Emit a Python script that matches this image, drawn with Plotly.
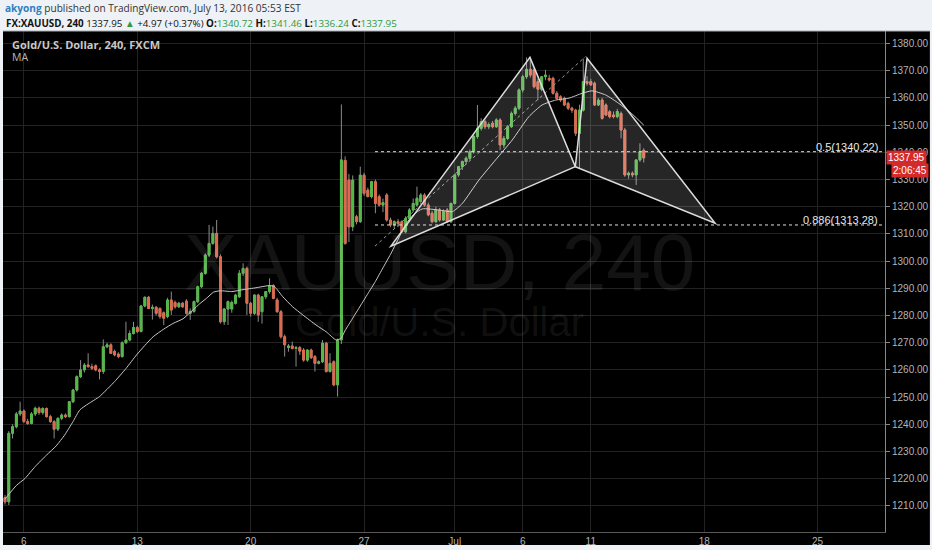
import plotly.graph_objects as go

# ---------------- data ----------------
opens = [1213.0, 1211.5, 1236.7, 1239.1, 1243.8, 1244.9, 1241.0, 1240.3, 1243.8, 1245.9,
         1244.3, 1245.8, 1242.8, 1241.0, 1238.2, 1242.2, 1243.4, 1242.8, 1248.3, 1252.6,
         1257.5, 1260.0, 1261.8, 1261.2, 1261.5, 1260.0, 1259.4, 1268.5, 1269.2, 1266.8,
         1265.8, 1264.9, 1270.0, 1271.0, 1273.4, 1275.6, 1274.1, 1283.5, 1286.7, 1282.6,
         1283.0, 1282.6, 1281.0, 1279.6, 1285.7, 1284.8, 1283.2, 1284.5, 1285.3, 1280.8,
         1281.5, 1285.1, 1290.6, 1295.5, 1302.2, 1306.5, 1310.2, 1301.6, 1277.7, 1282.4,
         1282.4, 1284.5, 1286.9, 1295.5, 1297.3, 1284.5, 1280.8, 1287.5, 1281.4, 1286.9,
         1288.8, 1291.0, 1285.7, 1281.4, 1272.2, 1268.2, 1268.8, 1267.9, 1268.2, 1267.3,
         1263.6, 1267.3, 1264.9, 1262.4, 1263.0, 1269.8, 1259.4, 1263.0, 1254.5, 1271.0,
         1337.0, 1329.8, 1312.6, 1316.3, 1314.5, 1331.6, 1326.1, 1323.7, 1329.2, 1323.7,
         1320.6, 1324.3, 1315.1, 1313.3, 1314.5, 1314.5, 1310.8, 1315.7, 1318.8, 1320.6,
         1321.9, 1324.3, 1320.6, 1317.6, 1314.5, 1318.8, 1315.1, 1318.8, 1314.5, 1321.2,
         1331.7, 1334.7, 1336.6, 1337.8, 1340.2, 1345.8, 1348.8, 1351.3, 1349.4, 1350.7,
         1349.4, 1351.9, 1342.7, 1345.1, 1349.4, 1354.3, 1356.2, 1362.9, 1367.8, 1370.5,
         1370.3, 1366.0, 1363.2, 1367.8, 1367.2, 1367.2, 1361.7, 1360.4, 1359.8, 1358.0,
         1356.2, 1355.5, 1347.0, 1355.5, 1366.0, 1366.0, 1365.4, 1357.4, 1359.2, 1357.4,
         1354.9, 1353.7, 1353.1, 1354.3, 1348.2, 1331.7, 1332.3, 1331.7, 1337.2, 1340.72]
highs = [1214.0, 1237.5, 1240.0, 1244.5, 1248.3, 1245.5, 1242.0, 1244.5, 1246.5, 1246.5,
         1246.3, 1246.2, 1243.5, 1241.5, 1242.5, 1244.0, 1244.0, 1248.5, 1253.0, 1258.0,
         1263.6, 1262.5, 1266.1, 1262.3, 1262.0, 1260.6, 1271.2, 1270.0, 1269.8, 1267.5,
         1266.5, 1270.5, 1277.7, 1274.5, 1277.7, 1276.2, 1283.8, 1287.0, 1287.2, 1284.0,
         1283.5, 1283.0, 1281.5, 1286.5, 1288.8, 1285.5, 1285.0, 1285.0, 1286.0, 1282.6,
         1285.5, 1291.0, 1296.0, 1302.9, 1313.3, 1312.7, 1315.1, 1302.5, 1282.8, 1285.5,
         1285.5, 1288.0, 1296.7, 1299.2, 1298.0, 1285.0, 1287.8, 1288.0, 1287.0, 1289.0,
         1293.7, 1291.5, 1286.5, 1282.0, 1273.0, 1269.5, 1270.4, 1268.8, 1268.8, 1268.0,
         1267.5, 1267.8, 1265.5, 1263.5, 1271.0, 1270.3, 1266.1, 1263.5, 1271.5, 1357.6,
         1338.5, 1332.0, 1331.5, 1317.0, 1334.7, 1332.5, 1327.0, 1329.5, 1330.0, 1324.5,
         1323.0, 1325.0, 1316.0, 1315.0, 1315.5, 1315.0, 1316.5, 1319.5, 1323.0, 1327.4,
         1325.0, 1325.0, 1321.5, 1318.5, 1320.0, 1319.5, 1319.0, 1319.5, 1321.5, 1332.0,
         1335.0, 1337.0, 1338.5, 1341.0, 1346.5, 1357.4, 1352.5, 1352.0, 1351.0, 1351.5,
         1352.5, 1352.5, 1346.0, 1350.0, 1355.0, 1357.0, 1363.5, 1368.5, 1374.9, 1374.9,
         1371.0, 1367.0, 1368.0, 1370.3, 1368.5, 1367.8, 1362.5, 1361.0, 1360.5, 1358.6,
         1356.8, 1356.0, 1357.5, 1374.5, 1368.0, 1367.0, 1366.0, 1360.0, 1360.0, 1358.0,
         1355.5, 1355.0, 1356.0, 1355.0, 1349.0, 1333.0, 1333.0, 1337.0, 1343.3, 1341.46]
lows = [1210.5, 1210.3, 1234.8, 1238.5, 1243.0, 1240.5, 1239.8, 1240.0, 1243.0, 1243.5,
        1243.5, 1242.5, 1240.5, 1234.8, 1237.5, 1241.5, 1242.3, 1242.5, 1247.8, 1252.0,
        1257.0, 1259.0, 1260.8, 1260.0, 1259.5, 1256.5, 1258.5, 1268.0, 1266.0, 1265.0,
        1264.3, 1264.5, 1269.5, 1270.5, 1273.0, 1273.5, 1273.8, 1283.0, 1282.5, 1278.5,
        1280.0, 1278.8, 1276.5, 1279.0, 1280.2, 1282.5, 1282.8, 1282.8, 1280.3, 1278.4,
        1281.0, 1284.5, 1290.0, 1295.0, 1301.5, 1306.0, 1301.0, 1277.0, 1276.5, 1276.5,
        1281.0, 1284.0, 1286.5, 1294.5, 1280.2, 1279.6, 1280.2, 1277.7, 1277.0, 1286.0,
        1288.0, 1286.0, 1281.0, 1271.5, 1264.9, 1266.7, 1267.5, 1261.2, 1265.5, 1263.0,
        1263.0, 1264.0, 1259.4, 1262.0, 1262.5, 1259.0, 1259.0, 1254.0, 1250.2, 1269.5,
        1306.0, 1307.0, 1311.0, 1313.5, 1314.0, 1324.0, 1323.5, 1323.0, 1317.6, 1320.0,
        1318.0, 1314.5, 1312.5, 1312.0, 1312.5, 1310.3, 1310.2, 1315.0, 1318.0, 1320.0,
        1321.0, 1320.0, 1316.5, 1313.9, 1314.0, 1314.5, 1314.8, 1314.0, 1314.0, 1320.8,
        1331.0, 1333.5, 1335.5, 1337.0, 1339.5, 1345.0, 1348.0, 1348.5, 1348.5, 1348.8,
        1349.0, 1340.8, 1341.5, 1344.5, 1349.0, 1353.5, 1355.5, 1362.0, 1367.0, 1367.5,
        1363.5, 1359.2, 1362.5, 1366.5, 1366.0, 1361.2, 1359.4, 1358.5, 1357.0, 1355.5,
        1354.5, 1346.0, 1334.2, 1355.0, 1364.5, 1364.5, 1357.0, 1357.0, 1352.0, 1353.5,
        1352.5, 1352.5, 1352.5, 1345.1, 1331.0, 1330.3, 1330.8, 1328.0, 1336.5, 1336.24]
closes = [1211.5, 1236.7, 1239.1, 1243.8, 1244.9, 1241.0, 1240.3, 1243.8, 1245.9, 1244.3,
          1245.8, 1242.8, 1241.0, 1238.2, 1242.2, 1243.4, 1242.8, 1248.3, 1252.6, 1257.5,
          1260.0, 1261.8, 1261.2, 1260.6, 1260.0, 1259.4, 1268.5, 1269.2, 1266.1, 1265.5,
          1264.9, 1270.0, 1271.0, 1273.4, 1275.6, 1274.1, 1283.5, 1286.7, 1282.6, 1283.0,
          1280.8, 1279.6, 1279.0, 1285.7, 1282.0, 1283.2, 1284.5, 1283.2, 1280.8, 1281.5,
          1285.1, 1290.6, 1295.5, 1302.2, 1306.5, 1310.2, 1301.6, 1277.7, 1282.4, 1285.1,
          1284.8, 1287.5, 1295.5, 1297.3, 1284.5, 1280.8, 1287.5, 1280.2, 1286.9, 1288.8,
          1291.0, 1286.3, 1281.4, 1272.2, 1269.2, 1268.8, 1267.9, 1268.2, 1266.9, 1263.6,
          1267.3, 1264.5, 1262.4, 1263.0, 1269.8, 1259.4, 1262.4, 1254.5, 1271.0, 1337.2,
          1306.5, 1312.6, 1329.8, 1314.5, 1331.6, 1324.9, 1323.7, 1329.2, 1321.2, 1320.6,
          1321.5, 1315.1, 1313.3, 1314.5, 1313.8, 1310.8, 1315.7, 1318.8, 1321.2, 1323.1,
          1324.3, 1320.6, 1317.0, 1314.5, 1318.8, 1315.1, 1318.2, 1314.5, 1321.2, 1331.7,
          1334.7, 1336.6, 1337.8, 1340.2, 1345.8, 1348.8, 1351.3, 1349.4, 1350.2, 1349.4,
          1351.9, 1342.7, 1345.1, 1349.4, 1354.3, 1356.2, 1362.9, 1367.8, 1370.5, 1368.4,
          1364.1, 1363.2, 1367.8, 1368.4, 1366.6, 1361.7, 1359.8, 1359.2, 1357.4, 1356.2,
          1355.5, 1347.0, 1355.5, 1366.0, 1365.4, 1364.8, 1357.4, 1359.2, 1352.5, 1353.7,
          1353.1, 1353.1, 1355.0, 1348.2, 1331.7, 1332.3, 1331.7, 1337.2, 1340.2, 1337.95]
bar_index = list(range(len(closes)))

# moving average line (bar position, price)
ma_bars = [0, 3, 5.3, 8, 11, 13.5, 15.8, 18, 19.8, 22, 25, 29, 32, 34.8, 37, 39.2, 42, 44.5,
           47.1, 49.7, 51.5, 53.3, 55.2, 57, 60, 63, 66.4, 70, 71.3, 73.5, 76.1, 78.8, 82.3,
           85, 87.6, 88.9, 90, 92, 94, 96, 98, 100, 102, 104, 106, 108, 110.4, 114.8, 118.4,
           121, 125.4, 129.8, 134.2, 138.6, 142.1, 145.7, 149.2, 152.7, 155.3, 158.9, 162.4,
           166, 169]
ma_values = [1212.5, 1217.5, 1220.1, 1224.5, 1228.7, 1232.0, 1236.1, 1241.0, 1245.3, 1247.5,
             1250.2, 1255.7, 1260.5, 1265.5, 1269.0, 1272.2, 1275.0, 1277.1, 1278.8, 1282.0,
             1284.3, 1286.3, 1288.6, 1289.1, 1288.8, 1289.5, 1290.2, 1291.0, 1290.6, 1286.9,
             1283.2, 1280.2, 1276.5, 1274.0, 1271.0, 1271.6, 1274.5, 1279.0, 1283.5, 1288.0,
             1292.5, 1297.5, 1302.5, 1308.0, 1313.5, 1317.0, 1319.2, 1318.8, 1318.2, 1321.2,
             1329.8, 1337.2, 1344.5, 1353.1, 1357.4, 1359.2, 1359.9, 1361.7, 1362.6, 1361.1,
             1358.0, 1354.0, 1350.0]

x_tick_bars = [5, 35, 65, 95, 119, 137, 155, 185, 215]
x_tick_labels = ["6", "13", "20", "27", "Jul", "6", "11", "18", "25"]
y_tick_values = list(range(1210, 1381, 10))

# harmonic pattern points X, A, B, C, D (bar position, price)
pattern_bars = [102.1, 138.9, 150.9, 154.0, 187.9]
pattern_prices = [1305.5, 1374.9, 1334.7, 1374.6, 1313.9]
trend_bars = [97.9, 153.6]
trend_prices = [1305.5, 1375.2]
fib_levels = [1340.22, 1313.28]
fib_labels = ["0.5(1340.22)", "0.886(1313.28)"]
fib_start_bar = 97.9

last_price = 1337.95
countdown_text = "2:06:45"

# ---------------- figure ----------------
X_MIN, X_MAX = -0.53, 232.84
Y_MIN, Y_MAX = 1200.4, 1384.6
W, H = 932, 550
ML, MR, MT, MB = 3, 45, 31, 18
PW, PH = W - ML - MR, H - MT - MB


def px_x(px):
    return (px - ML) / PW


def px_y(py):
    return (H - MB - py) / PH


GREEN = "#55b948"
RED = "#e0694c"
WICK = "#8c8c8c"

fig = go.Figure()

# wicks
fig.add_trace(go.Candlestick(
    x=bar_index, open=opens, high=highs, low=lows, close=closes,
    increasing=dict(line=dict(color=WICK, width=1), fillcolor=WICK),
    decreasing=dict(line=dict(color=WICK, width=1), fillcolor=WICK),
    whiskerwidth=0, hoverinfo="skip", showlegend=False))
# bodies
body_hi = [max(o, c) for o, c in zip(opens, closes)]
body_lo = [min(o, c) for o, c in zip(opens, closes)]
fig.add_trace(go.Candlestick(
    x=bar_index, open=opens, high=body_hi, low=body_lo, close=closes,
    increasing=dict(line=dict(color=GREEN, width=1), fillcolor=GREEN),
    decreasing=dict(line=dict(color=RED, width=1), fillcolor=RED),
    whiskerwidth=0, hoverinfo="skip", showlegend=False))

fig.add_trace(go.Scatter(x=ma_bars, y=ma_values, mode="lines",
                         line=dict(color="#c8c8c8", width=1, shape="spline", smoothing=0.5),
                         hoverinfo="skip", showlegend=False))

# dotted trend line
fig.add_trace(go.Scatter(x=trend_bars, y=trend_prices, mode="lines",
                         line=dict(color="#9a9a9a", width=1, dash="dot"),
                         hoverinfo="skip", showlegend=False))

shapes = []
# black chart area incl. axis strips
shapes.append(dict(type="rect", xref="paper", yref="paper", x0=0, x1=px_x(W), y0=px_y(545), y1=1,
                   fillcolor="#000000", line=dict(width=0), layer="below"))
shapes.append(dict(type="line", xref="paper", yref="paper", x0=0, x1=px_x(W), y0=1, y1=1,
                   line=dict(color="#a8adb3", width=1)))

Xb, Ab, Bb, Cb, Db = pattern_bars
Xp, Ap, Bp, Cp, Dp = pattern_prices
tri1 = f"M {Xb},{Xp} L {Ab},{Ap} L {Bb},{Bp} Z"
tri2 = f"M {Bb},{Bp} L {Cb},{Cp} L {Db},{Dp} Z"
for p in (tri1, tri2):
    shapes.append(dict(type="path", xref="x", yref="y", path=p,
                       fillcolor="rgba(255,255,255,0.15)",
                       line=dict(color="#dcdcdc", width=1.5), layer="above"))

for lvl in fib_levels:
    shapes.append(dict(type="line", xref="x", yref="y", x0=fib_start_bar, x1=X_MAX, y0=lvl, y1=lvl,
                       line=dict(color="#e0e0e0", width=1, dash="3px,3px"), layer="above"))

annotations = []
# watermark
annotations.append(dict(text="XAUUSD, 240", xref="paper", yref="paper", x=px_x(440), y=px_y(262),
                        showarrow=False, font=dict(size=80, color="rgba(255,255,255,0.075)",
                                                   family="Liberation Sans, Arial")))
annotations.append(dict(text="Gold/U.S. Dollar", xref="paper", yref="paper", x=px_x(440), y=px_y(322),
                        showarrow=False, font=dict(size=40, color="rgba(255,255,255,0.075)",
                                                   family="Liberation Sans, Arial")))
# header
annotations.append(dict(
    text='<b><span style="color:#2f7fc1">akyong</span></b> published on TradingView.com, July 13, 2016 05:53 EST',
    xref="paper", yref="paper", x=px_x(3), y=px_y(8), xanchor="left", yanchor="middle",
    showarrow=False, font=dict(size=10.1, color="#333333", family="Open Sans, Arial")))
G = "#2e9c3e"
annotations.append(dict(
    text=('<b>FX:XAUUSD, 240</b> 1337.95 <span style="color:%s">▲</span> +4.97 (+0.37%%) '
          '<b>O:</b><span style="color:%s">1340.72</span> <b>H:</b><span style="color:%s">1341.46</span> '
          '<b>L:</b><span style="color:%s">1336.24</span> <b>C:</b><span style="color:%s">1337.95</span>')
         % (G, G, G, G, G),
    xref="paper", yref="paper", x=px_x(4), y=px_y(23), xanchor="left", yanchor="middle",
    showarrow=False, font=dict(size=9.8, color="#111111", family="Open Sans, Arial")))
# chart legend
annotations.append(dict(text="<b>Gold/U.S. Dollar, 240, FXCM</b>", xref="paper", yref="paper",
                        x=px_x(10), y=px_y(44), xanchor="left", yanchor="middle", showarrow=False,
                        font=dict(size=11, color="#c8c8c8", family="Open Sans, Arial")))
annotations.append(dict(text="MA", xref="paper", yref="paper",
                        x=px_x(10), y=px_y(57), xanchor="left", yanchor="middle", showarrow=False,
                        font=dict(size=10.5, color="#b8b8b8", family="Open Sans, Arial")))
# fib labels
for lvl, lab in zip(fib_levels, fib_labels):
    annotations.append(dict(text=lab, xref="paper", yref="y", x=px_x(882), y=lvl,
                            xanchor="right", yanchor="bottom", yshift=-3, showarrow=False,
                            font=dict(size=11, color="#e8e8e8", family="Liberation Sans, Arial")))
# last price / countdown boxes
annotations.append(dict(text=f"{last_price:.2f}", xref="paper", yref="y", x=px_x(888), y=last_price,
                        xanchor="left", yanchor="middle", showarrow=False, bgcolor="#d42a2a",
                        borderpad=1, font=dict(size=10, color="#ffffff", family="Liberation Sans, Arial")))
annotations.append(dict(text=countdown_text, xref="paper", yref="paper", x=px_x(893), y=px_y(170.5),
                        xanchor="left", yanchor="middle", showarrow=False, bgcolor="#d42a2a",
                        borderpad=1, font=dict(size=10, color="#ffffff", family="Liberation Sans, Arial")))

fig.update_layout(
    width=W, height=H, margin=dict(l=ML, r=MR, t=MT, b=MB),
    paper_bgcolor="#eef1f5", plot_bgcolor="#000000", showlegend=False,
    shapes=shapes, annotations=annotations,
    xaxis=dict(range=[X_MIN, X_MAX], tickvals=x_tick_bars, ticktext=x_tick_labels,
               showgrid=True, gridcolor="#232323", gridwidth=1, zeroline=False,
               ticks="", showline=True, linecolor="#5a5a5a", linewidth=1,
               tickfont=dict(size=10, color="#b4b4b4", family="Liberation Sans, Arial"),
               rangeslider=dict(visible=False), fixedrange=True),
    yaxis=dict(range=[Y_MIN, Y_MAX], side="right", tickvals=y_tick_values,
               ticktext=[f"{v:.2f}" for v in y_tick_values],
               showgrid=True, gridcolor="#232323", gridwidth=1, zeroline=False,
               ticks="outside", ticklen=4, tickcolor="#888888", showline=True,
               linecolor="#888888", linewidth=1,
               tickfont=dict(size=10, color="#b4b4b4", family="Liberation Sans, Arial"),
               fixedrange=True),
)

fig.write_html("out.html", config={"displayModeBar": False},
               post_script="document.body.style.margin='0';document.body.style.overflow='hidden';")
